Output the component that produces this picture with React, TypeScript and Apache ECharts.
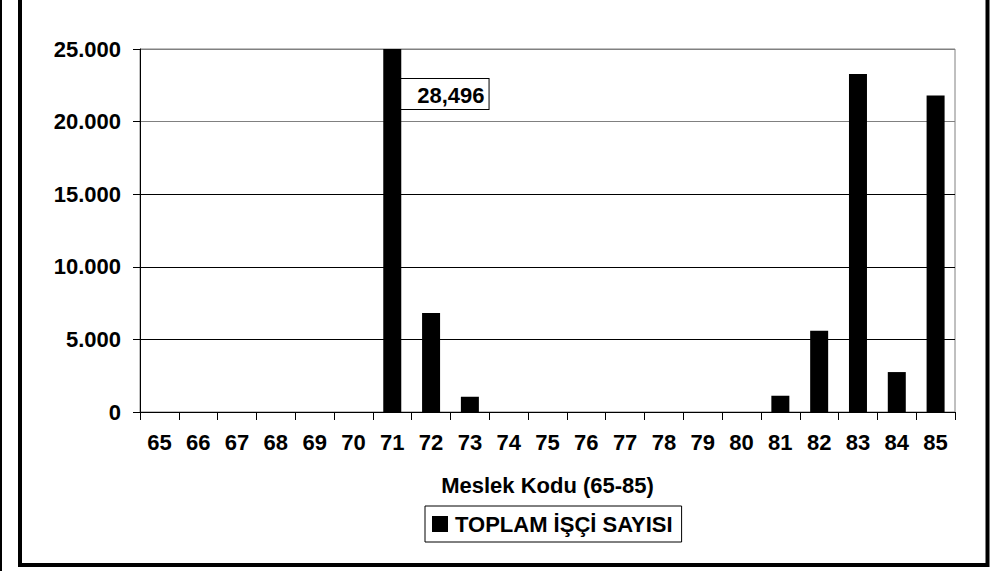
import React, { useEffect, useRef } from "react";
import * as echarts from "echarts";

const categories = ["65","66","67","68","69","70","71","72","73","74","75","76","77","78","79","80","81","82","83","84","85"];
const values = [0,0,0,0,0,0,28496,6820,1050,0,0,0,0,0,0,0,1120,5600,23280,2750,21790];
const seriesName = "TOPLAM İŞÇİ SAYISI";
const axisTitle = "Meslek Kodu (65-85)";
const yMax = 25000;
const yStep = 5000;

const FONT = "'Liberation Sans', Arial, sans-serif";

const fmtDot = (v: number) => String(v).replace(/\B(?=(\d{3})+(?!\d))/g, ".");
const fmtComma = (v: number) => String(v).replace(/\B(?=(\d{3})+(?!\d))/g, ",");

export default function App() {
  const ref = useRef<HTMLDivElement>(null);
  useEffect(() => {
    if (!ref.current) return;
    const chart = echarts.init(ref.current, null, { renderer: "svg" });
    const data = values.map((v) =>
      v > yMax
        ? {
            value: v,
            label: {
              show: true,
              position: [18, 30],
              align: "left",
              verticalAlign: "top",
              formatter: () => fmtComma(v),
              fontFamily: FONT,
              fontWeight: "bold",
              fontSize: 22,
              lineHeight: 24,
              color: "#000",
              backgroundColor: "#fff",
              borderColor: "#000",
              borderWidth: 1,
              padding: [4, 4, 2, 16],
            },
          }
        : v
    );
    chart.setOption({
      animation: false,
      backgroundColor: "#fff",
      grid: {
        left: 140,
        right: 46,
        top: 49,
        bottom: 159,
        show: true,
        borderColor: "#808080",
        borderWidth: 1,
        backgroundColor: "#fff",
      },
      legend: {
        data: [seriesName],
        left: 425,
        top: 506,
        orient: "horizontal",
        icon: "rect",
        itemWidth: 16,
        itemHeight: 16,
        itemGap: 7,
        borderColor: "#000",
        borderWidth: 1,
        padding: [7, 9, 7, 7],
        textStyle: { fontFamily: FONT, fontWeight: "bold", fontSize: 22, color: "#000", padding: [0, 0, 0, 2] },
      },
      xAxis: {
        type: "category",
        data: categories,
        boundaryGap: true,
        name: axisTitle,
        nameLocation: "middle",
        nameGap: 62,
        nameTextStyle: { fontFamily: FONT, fontWeight: "bold", fontSize: 22, color: "#000" },
        axisLine: { show: true, lineStyle: { color: "#000", width: 1 } },
        axisTick: { show: true, alignWithLabel: false, length: 8, lineStyle: { color: "#000" } },
        axisLabel: { fontFamily: FONT, fontWeight: "bold", fontSize: 22, color: "#000", margin: 19, interval: 0 },
        splitLine: { show: false },
      },
      yAxis: {
        type: "value",
        min: 0,
        max: yMax,
        interval: yStep,
        axisLine: { show: true, lineStyle: { color: "#000", width: 1 } },
        axisTick: { show: true, length: 7, lineStyle: { color: "#000" } },
        axisLabel: {
          fontFamily: FONT,
          fontWeight: "bold",
          fontSize: 22,
          color: "#000",
          margin: 19,
          formatter: (v: number) => fmtDot(v),
        },
        splitLine: {
          show: true,
          lineStyle: { color: ["#000", "#000", "#000", "#000", "#808080", "#808080"], width: 1 },
        },
      },
      series: [
        {
          name: seriesName,
          type: "bar",
          data,
          barWidth: 18,
          clip: true,
          itemStyle: { color: "#000" },
        },
      ],
      graphic: [
        { type: "rect", shape: { x: 0, y: 0, width: 2, height: 571 }, style: { fill: "#000" }, z: 100 },
        {
          type: "rect",
          shape: { x: 20, y: -10, width: 967.5, height: 575 },
          style: { fill: "none", stroke: "#000", lineWidth: 4 },
          z: 100,
        },
      ],
    });
    return () => chart.dispose();
  }, []);
  return <div ref={ref} style={{ position: "fixed", left: 0, top: 0, width: 1001, height: 571 }} />;
}
